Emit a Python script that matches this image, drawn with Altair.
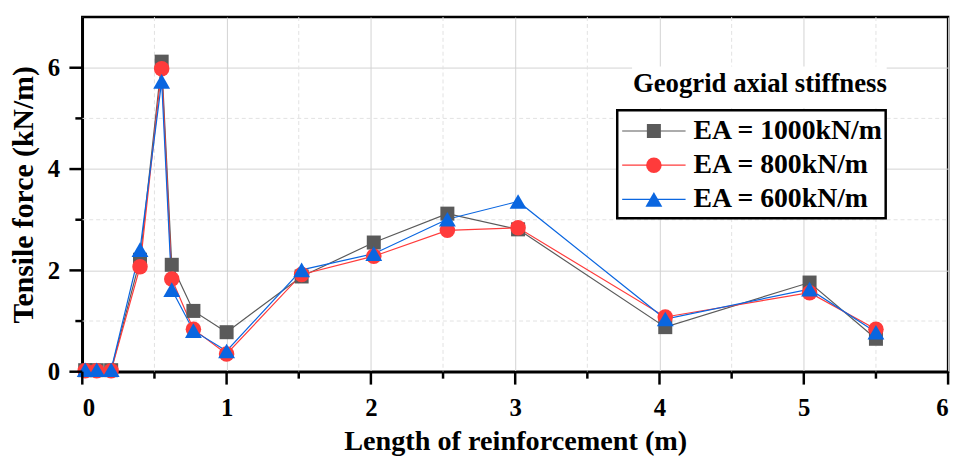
import altair as alt
import pandas as pd

# ---- data ----
x_len = [0.02, 0.10, 0.20, 0.40, 0.55, 0.62, 0.77, 1.00, 1.52, 2.02, 2.53, 3.02, 4.04, 5.04, 5.50]
ea1000 = [0.03, 0.03, 0.03, 2.21, 6.12, 2.11, 1.20, 0.78, 1.88, 2.55, 3.12, 2.81, 0.88, 1.76, 0.65]
ea800 = [0.02, 0.02, 0.02, 2.07, 5.98, 1.83, 0.84, 0.35, 1.92, 2.28, 2.79, 2.84, 1.08, 1.56, 0.84]
ea600 = [0.04, 0.04, 0.04, 2.41, 5.73, 1.62, 0.81, 0.41, 2.01, 2.33, 3.01, 3.36, 1.04, 1.63, 0.78]

series_names = ["EA = 1000kN/m", "EA = 800kN/m", "EA = 600kN/m"]
series_colors = ["#5a5a5a", "#ff3b3b", "#0a66e0"]
series_shapes = ["square", "circle", "triangle-up"]
legend_title = "Geogrid axial stiffness"

x_major = [0, 1, 2, 3, 4, 5, 6]
x_minor = [0.5, 1.5, 2.5, 3.5, 4.5, 5.5]
y_major = [0, 2, 4, 6]
y_minor = [1, 3, 5]

rows = []
for name, vals in zip(series_names, [ea1000, ea800, ea600]):
    for i, (xv, yv) in enumerate(zip(x_len, vals)):
        rows.append({"series": name, "x": xv, "y": yv, "i": i})
df = pd.DataFrame(rows)
legend_df = pd.DataFrame({"series": series_names})
xticks_df = pd.DataFrame({"tx": [float(v) for v in x_major + x_minor],
                          "major": [1] * len(x_major) + [0] * len(x_minor)})
yticks_df = pd.DataFrame({"ty": [float(v) for v in y_major + y_minor],
                          "major": [1] * len(y_major) + [0] * len(y_minor)})

FONT = "Liberation Serif"
W, H = 874, 358

color = alt.Color("series:N", scale=alt.Scale(domain=series_names, range=series_colors), legend=None)
shape = alt.Shape("series:N", scale=alt.Scale(domain=series_names, range=series_shapes), legend=None)
size = alt.Size("series:N", scale=alt.Scale(domain=series_names, range=[200, 290, 340]), legend=None)

x_enc = alt.X(
    "x:Q",
    scale=alt.Scale(domain=[0, 6], nice=False),
    axis=alt.Axis(
        values=x_major,
        format="d",
        title="Length of reinforcement (m)",
        ticks=False,
        labelPadding=24,
        titlePadding=7,
        titleFontSize=28.5,
    ),
)
y_enc = alt.Y(
    "y:Q",
    scale=alt.Scale(domain=[0, 7], nice=False),
    axis=alt.Axis(
        values=y_major,
        format="d",
        title="Tensile force (kN/m)",
        ticks=False,
        labelPadding=23,
        titlePadding=9,
        titleFontSize=30,
    ),
)

# minor grid (dashed) and tick marks, placed through the shared scales
xgrid_minor = alt.Chart(xticks_df).transform_filter("datum.major == 0").mark_rule(
    color="#e2e2e2", strokeDash=[4, 3], strokeWidth=1
).encode(x="tx:Q", y=alt.value(0), y2=alt.value(H))
ygrid_minor = alt.Chart(yticks_df).transform_filter("datum.major == 0").mark_rule(
    color="#e2e2e2", strokeDash=[4, 3], strokeWidth=1
).encode(y="ty:Q", x=alt.value(0), x2=alt.value(W))
xtick_minor = alt.Chart(xticks_df).transform_filter("datum.major == 0").mark_rule(
    color="black", strokeWidth=2.5
).encode(x="tx:Q", y=alt.value(H), y2=alt.value(H + 7))
ytick_minor = alt.Chart(yticks_df).transform_filter("datum.major == 0").mark_rule(
    color="black", strokeWidth=2.5
).encode(y="ty:Q", x=alt.value(-7), x2=alt.value(0))
xtick_major = alt.Chart(xticks_df).transform_filter("datum.major == 1").mark_rule(
    color="black", strokeWidth=2.5
).encode(x="tx:Q", y=alt.value(H), y2=alt.value(H + 13))
ytick_major = alt.Chart(yticks_df).transform_filter("datum.major == 1").mark_rule(
    color="black", strokeWidth=2.5
).encode(y="ty:Q", x=alt.value(-13), x2=alt.value(0))

lines = alt.Chart(df).mark_line(strokeWidth=1.2).encode(
    x=x_enc, y=y_enc, color=color, detail="series:N", order="i:Q"
)
points = alt.Chart(df).mark_point(filled=True, opacity=1, strokeWidth=0).encode(
    x="x:Q", y="y:Q", color=color, shape=shape, size=size
)
main = alt.layer(xgrid_minor, ygrid_minor, lines, points,
                 xtick_minor, ytick_minor, xtick_major, ytick_major)

one = alt.Data(values=[{"a": 1}])
box = alt.Chart(one).mark_rect(fill="white", stroke="black", strokeWidth=2.5).encode(
    x=alt.value(540), x2=alt.value(811), y=alt.value(94), y2=alt.value(203)
)
title_bg = alt.Chart(one).mark_rect(fill="white").encode(
    x=alt.value(555), x2=alt.value(812), y=alt.value(50), y2=alt.value(92)
)
title_txt = alt.Chart(one).mark_text(
    text=legend_title, font=FONT, fontWeight="bold", fontSize=27, align="center", baseline="middle", color="black"
).encode(x=alt.value(684), y=alt.value(68))

ly = alt.Y("series:N", scale=alt.Scale(type="point", domain=series_names, range=[115, 184], padding=0), axis=None)
leg_rule = alt.Chart(legend_df).mark_rule(strokeWidth=1.2).encode(
    x=alt.value(545), x2=alt.value(609), y=ly, color=color
)
leg_pts = alt.Chart(legend_df).mark_point(filled=True, opacity=1, strokeWidth=0).encode(
    x=alt.value(577), y=ly, color=color, shape=shape, size=size
)
leg_txt = alt.Chart(legend_df).mark_text(
    font=FONT, fontWeight="bold", fontSize=28, align="left", baseline="middle", color="black"
).encode(x=alt.value(617), y=ly, text="series:N")
legend_layer = alt.layer(title_bg, title_txt, box, leg_rule, leg_pts, leg_txt)

chart = (
    alt.layer(main, legend_layer)
    .resolve_scale(y="independent")
    .properties(
        width=W,
        height=H,
        autosize=alt.AutoSizeParams(type="none"),
        padding={"left": 75, "top": 7, "right": 10, "bottom": 90},
        background="white",
    )
    .configure_view(stroke="black", strokeWidth=2.5)
    .configure_axis(
        domainColor="black",
        domainWidth=2.5,
        gridColor="#d2d2d2",
        gridWidth=1,
        labelFont=FONT,
        labelFontWeight="bold",
        labelFontSize=25,
        labelColor="black",
        titleFont=FONT,
        titleFontWeight="bold",
        titleColor="black",
    )
)

chart.save("out.html", embed_options={"renderer": "svg", "actions": False})
